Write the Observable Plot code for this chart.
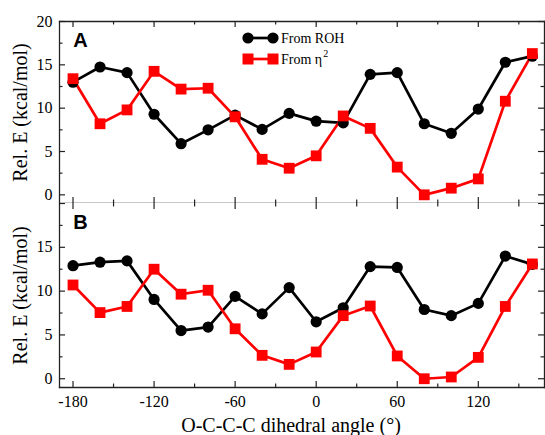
<!DOCTYPE html>
<html>
<head>
<meta charset="utf-8">
<script src="https://cdn.jsdelivr.net/npm/d3@7"></script>
<script src="https://cdn.jsdelivr.net/npm/@observablehq/plot@0.6"></script>
<style>
  html, body { margin: 0; padding: 0; background: #fff; }
  #chart { position: relative; width: 545px; height: 435px; }
  #chart svg { display: block; }
  #chart svg text { font-family: 'Liberation Serif', 'Times New Roman', serif; fill: black; }
</style>
</head>
<body>
<div id="chart"></div>
<script>
// ---- data ----
const angles = [-180, -160, -140, -120, -100, -80, -60, -40, -20, 0, 20, 40, 60, 80, 100, 120, 140, 160];
const rohA  = [13.0, 14.75, 14.1, 9.3, 5.9, 7.5, 9.2, 7.55, 9.4, 8.5, 8.3, 13.9, 14.1, 8.2, 7.1, 9.9, 15.3, 16.0];
const eta2A = [13.4, 8.2, 9.8, 14.25, 12.2, 12.3, 9.0, 4.1, 3.07, 4.5, 9.1, 7.67, 3.2, 0.0, 0.77, 1.84, 10.8, 16.3];
const rohB  = [12.9, 13.3, 13.45, 9.05, 5.5, 5.9, 9.4, 7.4, 10.4, 6.5, 8.1, 12.8, 12.7, 7.9, 7.2, 8.6, 14.0, 13.05];
const eta2B = [10.7, 7.55, 8.25, 12.5, 9.65, 10.1, 5.7, 2.67, 1.64, 3.05, 7.2, 8.3, 2.6, 0.0, 0.2, 2.44, 8.25, 13.1];

const xMajor = [-180, -120, -60, 0, 60, 120];
const xMinor = [-150, -90, -30, 30, 90, 150];
const yMajor = [0, 5, 10, 15, 20];
const yMinor = [2.5, 7.5, 12.5, 17.5];
const yLabelsA = [0, 5, 10, 15, 20];
const yLabelsB = [0, 5, 10, 15];
const panelLetters = ["A", "B"];
const yTitle = "Rel. E (kcal/mol)";
const xTitle = "O-C-C-C dihedral angle (°)";
const seriesNames = ["From ROH", "From η"];

const W = 545;
const ML = 59, MR = 1;
const innerW = W - ML - MR;

function panel(letter, roh, eta, opts) {
  const {height, marginTop, marginBottom, yLabels, showX, frameSides} = opts;
  const innerH = height - marginTop - marginBottom;
  const rohData = angles.map((a, i) => ({a, v: roh[i]}));
  const etaData = angles.map((a, i) => ({a, v: eta[i]}));
  const maj = 6, mnr = 3.5;
  const marks = [];
  for (const side of frameSides) marks.push(Plot.frame({anchor: side, stroke: "#222", strokeWidth: 1.3}));
  marks.push(
    Plot.ruleX(xMajor, {x: d => d, insetTop: innerH - maj, stroke: "#222", strokeWidth: 1.2}),
    Plot.ruleX(xMajor, {x: d => d, insetBottom: innerH - maj, stroke: "#222", strokeWidth: 1.2}),
    Plot.ruleX(xMinor, {x: d => d, insetTop: innerH - mnr, stroke: "#222", strokeWidth: 1.2}),
    Plot.ruleX(xMinor, {x: d => d, insetBottom: innerH - mnr, stroke: "#222", strokeWidth: 1.2}),
    Plot.ruleY(yMajor, {y: d => d, insetRight: innerW - maj, stroke: "#222", strokeWidth: 1.2}),
    Plot.ruleY(yMajor, {y: d => d, insetLeft: innerW - maj, stroke: "#222", strokeWidth: 1.2}),
    Plot.ruleY(yMinor, {y: d => d, insetRight: innerW - mnr, stroke: "#222", strokeWidth: 1.2}),
    Plot.ruleY(yMinor, {y: d => d, insetLeft: innerW - mnr, stroke: "#222", strokeWidth: 1.2})
  );
  marks.push(
    Plot.axisY({ticks: yLabels, tickSize: 0, tickPadding: 7, tickFormat: d => String(d), label: null, fontSize: 16}),
    Plot.line(rohData, {x: "a", y: "v", stroke: "black", strokeWidth: 2.7}),
    Plot.line(etaData, {x: "a", y: "v", stroke: "#ff0000", strokeWidth: 2.7}),
    Plot.dot(rohData, {x: "a", y: "v", r: 5.6, fill: "black", symbol: "circle"}),
    Plot.dot(etaData, {x: "a", y: "v", r: 6.1, fill: "#ff0000", symbol: "square"}),
    Plot.text([letter], {text: d => d, frameAnchor: "top-left", dx: 21, dy: 19, textAnchor: "middle", lineAnchor: "middle",
      fontWeight: "bold", fontSize: 20}),
    Plot.text([yTitle], {text: d => d, frameAnchor: "left", dx: -39, rotate: -90, textAnchor: "middle", lineAnchor: "middle",
      fontSize: 20})
  );
  if (showX) {
    marks.push(
      Plot.axisX({ticks: xMajor, tickSize: 0, tickPadding: 8, tickFormat: d => String(d), label: null, fontSize: 16}),
      Plot.text([xTitle], {text: d => d, frameAnchor: "bottom", dx: -11, dy: 38, textAnchor: "middle", lineAnchor: "middle",
        fontSize: 20})
    );
  }
  const svg = Plot.plot({
    width: W, height, marginLeft: ML, marginRight: MR, marginTop, marginBottom,
    x: {domain: [-190, 169], axis: null},
    y: {domain: [-1, 20], axis: null},
    marks
  });
  // panel letter in bold sans
  d3.select(svg).selectAll("text").filter(function () { return this.textContent === letter; })
    .style("font-family", "'Liberation Sans', Arial, sans-serif").style("font-weight", "bold");
  return svg;
}

const chart = document.getElementById("chart");
chart.appendChild(panel(panelLetters[0], rohA, eta2A, {height: 203, marginTop: 21, marginBottom: 0, yLabels: yLabelsA, showX: false,
  frameSides: ["top", "bottom", "left", "right"]}));
chart.appendChild(panel(panelLetters[1], rohB, eta2B, {height: 232, marginTop: 0, marginBottom: 48, yLabels: yLabelsB, showX: true,
  frameSides: ["bottom", "left", "right"]}));

// legend overlay
const leg = d3.select(chart).append("svg").attr("width", W).attr("height", 80)
  .style("position", "absolute").style("left", "0px").style("top", "0px").style("pointer-events", "none");
const items = [
  {name: seriesNames[0], color: "black", sym: "circle", sup: null},
  {name: seriesNames[1], color: "#ff0000", sym: "square", sup: "2"}
];
items.forEach((it, i) => {
  const y = 38 + i * 21;
  const g = leg.append("g");
  g.append("line").attr("x1", 248).attr("x2", 273).attr("y1", y).attr("y2", y).attr("stroke", it.color).attr("stroke-width", 2.7);
  for (const cx of [248, 273]) {
    if (it.sym === "circle") g.append("circle").attr("cx", cx).attr("cy", y).attr("r", 5.6).attr("fill", it.color);
    else g.append("rect").attr("x", cx - 5.5).attr("y", y - 5.5).attr("width", 11).attr("height", 11).attr("fill", it.color);
  }
  const t = g.append("text").attr("x", 281).attr("y", y).attr("dy", "0.35em").attr("font-size", 14)
    .text(it.name);
  if (it.sup) t.append("tspan").attr("font-size", 10).attr("dy", "-0.7em").attr("dx", "1").text(it.sup);
});
</script>
</body>
</html>
